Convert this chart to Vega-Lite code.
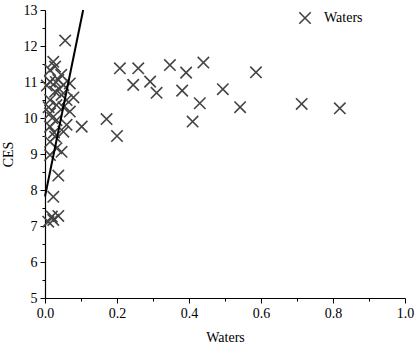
{
  "$schema": "https://vega.github.io/schema/vega-lite/v6.json",
  "width": 360,
  "height": 288,
  "autosize": {"type": "none"},
  "padding": {"left": 45, "top": 10, "right": 11, "bottom": 52},
  "background": "white",
  "config": {
    "view": {"stroke": null},
    "font": "Liberation Serif"
  },
  "datasets": {
    "pts": [
      {"x": 0.023, "y": 11.56, "s": "Waters"},
      {"x": 0.028, "y": 11.43, "s": "Waters"},
      {"x": 0.014, "y": 11.33, "s": "Waters"},
      {"x": 0.014, "y": 11.01, "s": "Waters"},
      {"x": 0.037, "y": 11.06, "s": "Waters"},
      {"x": 0.051, "y": 10.92, "s": "Waters"},
      {"x": 0.069, "y": 10.96, "s": "Waters"},
      {"x": 0.028, "y": 10.73, "s": "Waters"},
      {"x": 0.046, "y": 10.64, "s": "Waters"},
      {"x": 0.079, "y": 10.57, "s": "Waters"},
      {"x": 0.014, "y": 10.5, "s": "Waters"},
      {"x": 0.032, "y": 10.36, "s": "Waters"},
      {"x": 0.051, "y": 10.3, "s": "Waters"},
      {"x": 0.069, "y": 10.18, "s": "Waters"},
      {"x": 0.014, "y": 10.13, "s": "Waters"},
      {"x": 0.032, "y": 9.94, "s": "Waters"},
      {"x": 0.06, "y": 9.81, "s": "Waters"},
      {"x": 0.014, "y": 9.76, "s": "Waters"},
      {"x": 0.051, "y": 9.62, "s": "Waters"},
      {"x": 0.028, "y": 9.48, "s": "Waters"},
      {"x": 0.014, "y": 9.34, "s": "Waters"},
      {"x": 0.032, "y": 9.16, "s": "Waters"},
      {"x": 0.014, "y": 8.97, "s": "Waters"},
      {"x": 0.046, "y": 9.06, "s": "Waters"},
      {"x": 0.037, "y": 8.4, "s": "Waters"},
      {"x": 0.023, "y": 7.81, "s": "Waters"},
      {"x": 0.019, "y": 7.26, "s": "Waters"},
      {"x": 0.037, "y": 7.28, "s": "Waters"},
      {"x": 0.009, "y": 7.12, "s": "Waters"},
      {"x": 0.023, "y": 7.17, "s": "Waters"},
      {"x": 0.005, "y": 10.9, "s": "Waters"},
      {"x": 0.01, "y": 10.3, "s": "Waters"},
      {"x": 0.02, "y": 10.0, "s": "Waters"},
      {"x": 0.04, "y": 10.8, "s": "Waters"},
      {"x": 0.045, "y": 11.2, "s": "Waters"},
      {"x": 0.03, "y": 11.0, "s": "Waters"},
      {"x": 0.06, "y": 10.5, "s": "Waters"},
      {"x": 0.025, "y": 9.6, "s": "Waters"},
      {"x": 0.056, "y": 12.15, "s": "Waters"},
      {"x": 0.102, "y": 9.76, "s": "Waters"},
      {"x": 0.171, "y": 9.97, "s": "Waters"},
      {"x": 0.2, "y": 9.5, "s": "Waters"},
      {"x": 0.208, "y": 11.38, "s": "Waters"},
      {"x": 0.259, "y": 11.38, "s": "Waters"},
      {"x": 0.347, "y": 11.47, "s": "Waters"},
      {"x": 0.44, "y": 11.54, "s": "Waters"},
      {"x": 0.392, "y": 11.26, "s": "Waters"},
      {"x": 0.245, "y": 10.92, "s": "Waters"},
      {"x": 0.292, "y": 11.01, "s": "Waters"},
      {"x": 0.31, "y": 10.7, "s": "Waters"},
      {"x": 0.381, "y": 10.76, "s": "Waters"},
      {"x": 0.43, "y": 10.41, "s": "Waters"},
      {"x": 0.41, "y": 9.9, "s": "Waters"},
      {"x": 0.494, "y": 10.8, "s": "Waters"},
      {"x": 0.542, "y": 10.3, "s": "Waters"},
      {"x": 0.586, "y": 11.27, "s": "Waters"},
      {"x": 0.713, "y": 10.39, "s": "Waters"},
      {"x": 0.819, "y": 10.27, "s": "Waters"}
    ],
    "fit": [
      {"x": 0.0, "y": 7.82},
      {"x": 0.106, "y": 13.0}
    ]
  },
  "encoding": {
    "x": {
      "field": "x", "type": "quantitative",
      "scale": {"domain": [0, 1], "nice": false, "zero": false},
      "axis": {
        "orient": "bottom",
        "title": "Waters",
        "values": [0, 0.2, 0.4, 0.6, 0.8, 1.0],
        "format": ".1f",
        "grid": false,
        "ticks": true,
        "tickColor": "#000",
        "tickWidth": 1,
        "tickSize": 5,
        "domainColor": "#000",
        "domainWidth": 1.2,
        "labelColor": "#000",
        "labelFont": "Liberation Serif",
        "labelFontSize": 14,
        "labelPadding": 3,
        "titleFont": "Liberation Serif",
        "titleFontSize": 14,
        "titleFontWeight": "normal",
        "titleColor": "#000",
        "titlePadding": 10,
        "labelFlush": false,
        "labelOverlap": false
      }
    },
    "y": {
      "field": "y", "type": "quantitative",
      "scale": {"domain": [5, 13], "nice": false, "zero": false},
      "axis": {
        "orient": "left",
        "title": "CES",
        "values": [5, 6, 7, 8, 9, 10, 11, 12, 13],
        "format": "d",
        "grid": false,
        "ticks": true,
        "tickColor": "#000",
        "tickWidth": 1,
        "tickSize": 5,
        "domainColor": "#000",
        "domainWidth": 1.2,
        "labelColor": "#000",
        "labelFont": "Liberation Serif",
        "labelFontSize": 14,
        "labelPadding": 3,
        "titleFont": "Liberation Serif",
        "titleFontSize": 14,
        "titleFontWeight": "normal",
        "titleColor": "#000",
        "titlePadding": 8,
        "labelFlush": false,
        "labelOverlap": false
      }
    }
  },
  "resolve": {"axis": {"x": "independent", "y": "independent"}},
  "layer": [
    {
      "data": {"name": "pts"},
      "mark": {"type": "point", "filled": false, "strokeWidth": 1.6, "color": "#444444", "opacity": 1},
      "encoding": {
        "shape": {
          "field": "s", "type": "nominal",
          "scale": {"range": ["M-1,-1L1,1M1,-1L-1,1"]},
          "legend": {
            "title": null,
            "orient": "none",
            "legendX": 253,
            "legendY": 1,
            "labelFont": "Liberation Serif",
            "labelFontSize": 14,
            "labelColor": "#000",
            "symbolSize": 130,
            "symbolStrokeWidth": 1.6,
            "symbolStrokeColor": "#444444",
            "labelOffset": 12
          }
        },
        "size": {"value": 130}
      }
    },
    {
      "data": {"name": "fit"},
      "mark": {"type": "line", "color": "#000", "strokeWidth": 2},
      "encoding": {
        "x": {"field": "x", "type": "quantitative", "axis": null},
        "y": {"field": "y", "type": "quantitative", "axis": null}
      }
    },
    {
      "data": {"name": "fit"},
      "mark": {"type": "point", "opacity": 0},
      "encoding": {
        "x": {
          "field": "x", "type": "quantitative",
          "axis": {
            "orient": "bottom",
            "title": null,
            "values": [0.1, 0.3, 0.5, 0.7, 0.9],
            "labels": false,
            "domain": false,
            "grid": false,
            "ticks": true,
            "tickColor": "#000",
            "tickWidth": 1,
            "tickSize": 3
          }
        },
        "y": {
          "field": "y", "type": "quantitative",
          "axis": {
            "orient": "left",
            "title": null,
            "values": [5.5, 6.5, 7.5, 8.5, 9.5, 10.5, 11.5, 12.5],
            "labels": false,
            "domain": false,
            "grid": false,
            "ticks": true,
            "tickColor": "#000",
            "tickWidth": 1,
            "tickSize": 3
          }
        }
      }
    }
  ]
}
